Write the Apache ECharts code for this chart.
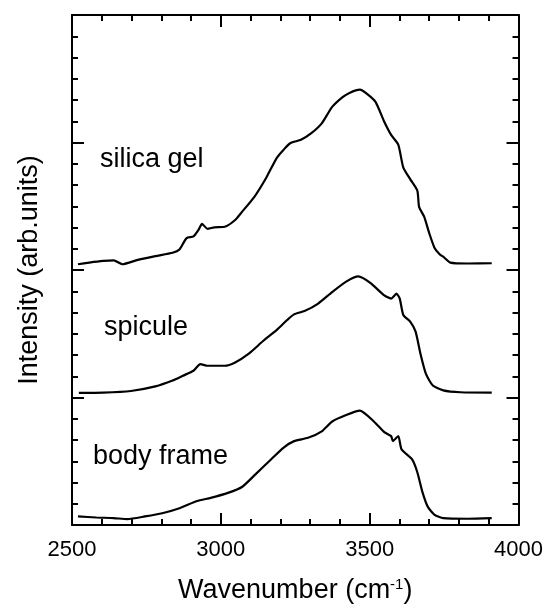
<!DOCTYPE html>
<html>
<head>
<meta charset="utf-8">
<script src="https://cdn.jsdelivr.net/npm/echarts@6/dist/echarts.min.js"></script>
<style>
html,body{margin:0;padding:0;background:#fff;}
#chart{width:546px;height:609px;}
</style>
</head>
<body>
<div id="chart"></div>
<script>
// Tick labels
const xTickMin = 2500, xTickMax = 4000, xTickStep = 500;
const yTickMin = 0, yTickMax = 4, yTickStep = 1;

// Series: silica gel
const silicaWn = [2520,2558,2605,2640,2669,2721,2780,2838,2861,2885,2908,2925,2937,2955,2978,3013,3048,3071,3112,3153,3188,3211,3234,3269,3304,3339,3374,3409,3432,3467,3491,3520,3549,3572,3596,3613,3636,3660,3666,3683,3700,3718,3735,3747,3771,3829,3910];
const silicaInt = [2.045,2.058,2.071,2.076,2.045,2.079,2.109,2.135,2.161,2.250,2.263,2.315,2.361,2.323,2.335,2.339,2.392,2.456,2.572,2.726,2.880,2.944,2.996,3.021,3.073,3.150,3.279,3.356,3.389,3.414,3.381,3.317,3.163,3.060,2.983,2.803,2.713,2.623,2.495,2.418,2.289,2.173,2.123,2.104,2.058,2.051,2.053];

// Series: spicule
const spiculeWn = [2523,2605,2698,2780,2838,2873,2908,2931,2955,3013,3048,3094,3141,3188,3223,3246,3281,3327,3374,3421,3462,3502,3549,3572,3590,3601,3613,3636,3654,3671,3689,3712,3747,3805,3910];
const spiculeInt = [1.036,1.038,1.051,1.087,1.133,1.171,1.210,1.262,1.249,1.249,1.275,1.344,1.441,1.531,1.608,1.652,1.678,1.737,1.827,1.909,1.950,1.899,1.801,1.776,1.814,1.776,1.647,1.595,1.518,1.339,1.185,1.094,1.056,1.041,1.038];

// Series: body frame
const bodyWn = [2520,2582,2640,2686,2745,2803,2861,2920,2966,3024,3071,3118,3164,3211,3246,3293,3339,3374,3421,3467,3514,3549,3572,3578,3596,3607,3642,3660,3677,3695,3718,3747,3829,3910];
const bodyInt = [0.067,0.059,0.054,0.046,0.067,0.092,0.131,0.188,0.213,0.252,0.298,0.401,0.504,0.607,0.658,0.684,0.735,0.812,0.863,0.897,0.812,0.728,0.697,0.658,0.697,0.593,0.516,0.414,0.260,0.144,0.080,0.054,0.049,0.054];

// Labels
const seriesNames = ['silica gel', 'spicule', 'body frame'];

function pairs(xs, ys){ return xs.map((x,i)=>[x, ys[i]]); }

const FONT = '"Liberation Sans", Arial, sans-serif';
const axisLine = {show:true, onZero:false, lineStyle:{color:'#000', width:2}};
const tick = {show:true, inside:true, length:12, lineStyle:{color:'#000', width:2}};

const chart = echarts.init(document.getElementById('chart'), null, {renderer:'canvas'});
chart.setOption({
  animation:false,
  backgroundColor:'#fff',
  grid:{left:72, right:24, top:15, bottom:75, containLabel:false},
  xAxis:[{
    type:'value', position:'bottom', min:xTickMin, max:xTickMax, interval:xTickStep,
    axisLine:axisLine, axisTick:tick,
    minorTick:{show:true, splitNumber:5, length:6, lineStyle:{color:'#000', width:2}},
    splitLine:{show:false},
    axisLabel:{show:true, margin:14, fontSize:22, color:'#000', fontFamily:FONT, formatter:(v)=>String(v)},
    name:'Wavenumber (cm{sup|-1})', nameLocation:'middle', nameGap:52,
    nameTextStyle:{fontSize:27, color:'#000', fontFamily:FONT, verticalAlign:'top',
      rich:{sup:{fontSize:15, color:'#000', fontFamily:FONT, verticalAlign:'top'}}}
  },{
    type:'value', position:'top', min:xTickMin, max:xTickMax, interval:xTickStep,
    axisLine:axisLine, axisTick:tick,
    minorTick:{show:true, splitNumber:5, length:6, lineStyle:{color:'#000', width:2}},
    splitLine:{show:false}, axisLabel:{show:false}
  }],
  yAxis:[{
    type:'value', position:'left', min:yTickMin, max:yTickMax, interval:yTickStep,
    axisLine:axisLine, axisTick:tick,
    minorTick:{show:true, splitNumber:6, length:6, lineStyle:{color:'#000', width:2}},
    splitLine:{show:false}, axisLabel:{show:false},
    name:'Intensity (arb.units)', nameLocation:'middle', nameRotate:90, nameGap:29,
    nameTextStyle:{fontSize:27, color:'#000', fontFamily:FONT}
  },{
    type:'value', position:'right', min:yTickMin, max:yTickMax, interval:yTickStep,
    axisLine:axisLine, axisTick:tick,
    minorTick:{show:true, splitNumber:6, length:6, lineStyle:{color:'#000', width:2}},
    splitLine:{show:false}, axisLabel:{show:false}
  }],
  series:[
    {name:seriesNames[0], type:'line', xAxisIndex:0, yAxisIndex:0, data:pairs(silicaWn, silicaInt), showSymbol:false, smooth:0.2, lineStyle:{color:'#000', width:2.2}},
    {name:seriesNames[1], type:'line', xAxisIndex:0, yAxisIndex:0, data:pairs(spiculeWn, spiculeInt), showSymbol:false, smooth:0.2, lineStyle:{color:'#000', width:2.2}},
    {name:seriesNames[2], type:'line', xAxisIndex:0, yAxisIndex:0, data:pairs(bodyWn, bodyInt), showSymbol:false, smooth:0.2, lineStyle:{color:'#000', width:2.2}}
  ],
  graphic:[
    {type:'text', left:100, top:146, style:{text:seriesNames[0], fill:'#000', font:'27px '+FONT}},
    {type:'text', left:104, top:314, style:{text:seriesNames[1], fill:'#000', font:'27px '+FONT}},
    {type:'text', left:93, top:443, style:{text:seriesNames[2], fill:'#000', font:'27px '+FONT}}
  ]
});
</script>
</body>
</html>
